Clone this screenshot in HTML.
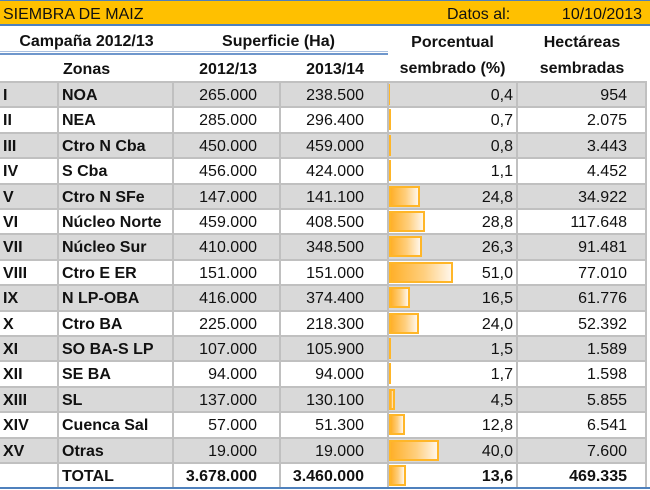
<!DOCTYPE html>
<html><head><meta charset="utf-8"><style>
body{margin:0;width:650px;height:490px;position:relative;overflow:hidden;background:#fff;font-family:"Liberation Sans",Arial,sans-serif;font-size:16px;color:#111}
.t{position:absolute;line-height:20px;white-space:nowrap}
.b{font-weight:bold}
.r{position:absolute;left:0;width:646px}
.g{background:#d9d9d9}
.w{background:#fff}
.hl{position:absolute;left:0;width:647px;height:2px;background:#c0c0c0}
.vl{position:absolute;top:81px;height:406px;width:2px;background:#c0c0c0}
.bar{position:absolute;left:389px;height:21px;box-sizing:border-box;border:2px solid #ffb628;background:linear-gradient(90deg,#ffb02a 0%,#ffcf7e 55%,#fff6ea 100%)}
.sb{position:absolute;left:389px;height:21px;background:#ffb628}
</style></head><body>
<div style="position:absolute;left:0;top:0;width:650px;height:1px;background:#4f81bd"></div>
<div style="position:absolute;left:0;top:1px;width:650px;height:23px;background:#ffc000"></div>
<div style="position:absolute;left:0;top:24px;width:650px;height:2px;background:#4f81bd"></div>
<div style="position:absolute;left:0;top:51px;width:388px;height:1px;background:#a9c0e0"></div>
<div style="position:absolute;left:0;top:53px;width:388px;height:2px;background:#6f97cc"></div>

<div class="t" style="left:3px;top:5px">SIEMBRA DE MAIZ</div>
<div class="t" style="left:447px;top:5px">Datos al:</div>
<div class="t" style="right:8px;top:5px">10/10/2013</div>

<div class="t b" style="left:0;width:173px;text-align:center;top:32px">Campaña 2012/13</div>
<div class="t b" style="left:171px;width:215px;text-align:center;top:32px">Superficie (Ha)</div>
<div class="t b" style="left:388px;width:129px;text-align:center;top:33px">Porcentual</div>
<div class="t b" style="left:517px;width:130px;text-align:center;top:33px">Hectáreas</div>
<div class="t b" style="left:63px;top:60px">Zonas</div>
<div class="t b" style="right:393px;top:60px">2012/13</div>
<div class="t b" style="right:286px;top:60px">2013/14</div>
<div class="t b" style="left:388px;width:129px;text-align:center;top:59px">sembrado (%)</div>
<div class="t b" style="left:517px;width:130px;text-align:center;top:59px">sembradas</div>

<!-- row backgrounds -->
<div class="r g" style="top:81px;height:25px"></div>
<div class="r w" style="top:106px;height:26px"></div>
<div class="r g" style="top:132px;height:25px"></div>
<div class="r w" style="top:157px;height:26px"></div>
<div class="r g" style="top:183px;height:25px"></div>
<div class="r w" style="top:208px;height:25px"></div>
<div class="r g" style="top:233px;height:26px"></div>
<div class="r w" style="top:259px;height:25px"></div>
<div class="r g" style="top:284px;height:26px"></div>
<div class="r w" style="top:310px;height:25px"></div>
<div class="r g" style="top:335px;height:25px"></div>
<div class="r w" style="top:360px;height:26px"></div>
<div class="r g" style="top:386px;height:25px"></div>
<div class="r w" style="top:411px;height:26px"></div>
<div class="r g" style="top:437px;height:25px"></div>
<div class="r w" style="top:462px;height:25px"></div>

<!-- horizontal gridlines -->
<div class="hl" style="top:81px"></div>
<div class="hl" style="top:106px"></div>
<div class="hl" style="top:132px"></div>
<div class="hl" style="top:157px"></div>
<div class="hl" style="top:183px"></div>
<div class="hl" style="top:208px"></div>
<div class="hl" style="top:233px"></div>
<div class="hl" style="top:259px"></div>
<div class="hl" style="top:284px"></div>
<div class="hl" style="top:310px"></div>
<div class="hl" style="top:335px"></div>
<div class="hl" style="top:360px"></div>
<div class="hl" style="top:386px"></div>
<div class="hl" style="top:411px"></div>
<div class="hl" style="top:437px"></div>
<div class="hl" style="top:462px"></div>

<!-- vertical gridlines -->
<div class="vl" style="left:57px"></div>
<div class="vl" style="left:172px"></div>
<div class="vl" style="left:279px"></div>
<div class="vl" style="left:387px"></div>
<div class="vl" style="left:516px"></div>
<div class="vl" style="left:645px"></div>

<div style="position:absolute;left:0;top:487px;width:650px;height:2px;background:#4f81bd"></div>

<!-- bars -->
<div class="sb" style="top:84px;width:1px"></div>
<div class="sb" style="top:109px;width:2px"></div>
<div class="sb" style="top:135px;width:2px"></div>
<div class="sb" style="top:160px;width:2px"></div>
<div class="bar" style="top:186px;width:31px"></div>
<div class="bar" style="top:211px;width:36px"></div>
<div class="bar" style="top:236px;width:33px"></div>
<div class="bar" style="top:262px;width:64px"></div>
<div class="bar" style="top:287px;width:21px"></div>
<div class="bar" style="top:313px;width:30px"></div>
<div class="sb" style="top:338px;width:2px"></div>
<div class="sb" style="top:363px;width:2px"></div>
<div class="bar" style="top:389px;width:6px"></div>
<div class="bar" style="top:414px;width:16px"></div>
<div class="bar" style="top:440px;width:50px"></div>
<div class="bar" style="top:465px;width:17px"></div>

<!-- row text -->
<div class="t b" style="left:3px;top:86px">I</div><div class="t b" style="left:62px;top:86px">NOA</div><div class="t" style="right:393px;top:86px">265.000</div><div class="t" style="right:286px;top:86px">238.500</div><div class="t" style="right:137px;top:86px">0,4</div><div class="t" style="right:23px;top:86px">954</div>
<div class="t b" style="left:3px;top:111px">II</div><div class="t b" style="left:62px;top:111px">NEA</div><div class="t" style="right:393px;top:111px">285.000</div><div class="t" style="right:286px;top:111px">296.400</div><div class="t" style="right:137px;top:111px">0,7</div><div class="t" style="right:23px;top:111px">2.075</div>
<div class="t b" style="left:3px;top:137px">III</div><div class="t b" style="left:62px;top:137px">Ctro N Cba</div><div class="t" style="right:393px;top:137px">450.000</div><div class="t" style="right:286px;top:137px">459.000</div><div class="t" style="right:137px;top:137px">0,8</div><div class="t" style="right:23px;top:137px">3.443</div>
<div class="t b" style="left:3px;top:162px">IV</div><div class="t b" style="left:62px;top:162px">S Cba</div><div class="t" style="right:393px;top:162px">456.000</div><div class="t" style="right:286px;top:162px">424.000</div><div class="t" style="right:137px;top:162px">1,1</div><div class="t" style="right:23px;top:162px">4.452</div>
<div class="t b" style="left:3px;top:188px">V</div><div class="t b" style="left:62px;top:188px">Ctro N SFe</div><div class="t" style="right:393px;top:188px">147.000</div><div class="t" style="right:286px;top:188px">141.100</div><div class="t" style="right:137px;top:188px">24,8</div><div class="t" style="right:23px;top:188px">34.922</div>
<div class="t b" style="left:3px;top:213px">VI</div><div class="t b" style="left:62px;top:213px">Núcleo Norte</div><div class="t" style="right:393px;top:213px">459.000</div><div class="t" style="right:286px;top:213px">408.500</div><div class="t" style="right:137px;top:213px">28,8</div><div class="t" style="right:23px;top:213px">117.648</div>
<div class="t b" style="left:3px;top:238px">VII</div><div class="t b" style="left:62px;top:238px">Núcleo Sur</div><div class="t" style="right:393px;top:238px">410.000</div><div class="t" style="right:286px;top:238px">348.500</div><div class="t" style="right:137px;top:238px">26,3</div><div class="t" style="right:23px;top:238px">91.481</div>
<div class="t b" style="left:3px;top:264px">VIII</div><div class="t b" style="left:62px;top:264px">Ctro E ER</div><div class="t" style="right:393px;top:264px">151.000</div><div class="t" style="right:286px;top:264px">151.000</div><div class="t" style="right:137px;top:264px">51,0</div><div class="t" style="right:23px;top:264px">77.010</div>
<div class="t b" style="left:3px;top:289px">IX</div><div class="t b" style="left:62px;top:289px">N LP-OBA</div><div class="t" style="right:393px;top:289px">416.000</div><div class="t" style="right:286px;top:289px">374.400</div><div class="t" style="right:137px;top:289px">16,5</div><div class="t" style="right:23px;top:289px">61.776</div>
<div class="t b" style="left:3px;top:315px">X</div><div class="t b" style="left:62px;top:315px">Ctro BA</div><div class="t" style="right:393px;top:315px">225.000</div><div class="t" style="right:286px;top:315px">218.300</div><div class="t" style="right:137px;top:315px">24,0</div><div class="t" style="right:23px;top:315px">52.392</div>
<div class="t b" style="left:3px;top:340px">XI</div><div class="t b" style="left:62px;top:340px">SO BA-S LP</div><div class="t" style="right:393px;top:340px">107.000</div><div class="t" style="right:286px;top:340px">105.900</div><div class="t" style="right:137px;top:340px">1,5</div><div class="t" style="right:23px;top:340px">1.589</div>
<div class="t b" style="left:3px;top:365px">XII</div><div class="t b" style="left:62px;top:365px">SE BA</div><div class="t" style="right:393px;top:365px">94.000</div><div class="t" style="right:286px;top:365px">94.000</div><div class="t" style="right:137px;top:365px">1,7</div><div class="t" style="right:23px;top:365px">1.598</div>
<div class="t b" style="left:3px;top:391px">XIII</div><div class="t b" style="left:62px;top:391px">SL</div><div class="t" style="right:393px;top:391px">137.000</div><div class="t" style="right:286px;top:391px">130.100</div><div class="t" style="right:137px;top:391px">4,5</div><div class="t" style="right:23px;top:391px">5.855</div>
<div class="t b" style="left:3px;top:416px">XIV</div><div class="t b" style="left:62px;top:416px">Cuenca Sal</div><div class="t" style="right:393px;top:416px">57.000</div><div class="t" style="right:286px;top:416px">51.300</div><div class="t" style="right:137px;top:416px">12,8</div><div class="t" style="right:23px;top:416px">6.541</div>
<div class="t b" style="left:3px;top:442px">XV</div><div class="t b" style="left:62px;top:442px">Otras</div><div class="t" style="right:393px;top:442px">19.000</div><div class="t" style="right:286px;top:442px">19.000</div><div class="t" style="right:137px;top:442px">40,0</div><div class="t" style="right:23px;top:442px">7.600</div>
<div class="t b" style="left:62px;top:467px">TOTAL</div><div class="t b" style="right:393px;top:467px">3.678.000</div><div class="t b" style="right:286px;top:467px">3.460.000</div><div class="t b" style="right:137px;top:467px">13,6</div><div class="t b" style="right:23px;top:467px">469.335</div>
</body></html>
